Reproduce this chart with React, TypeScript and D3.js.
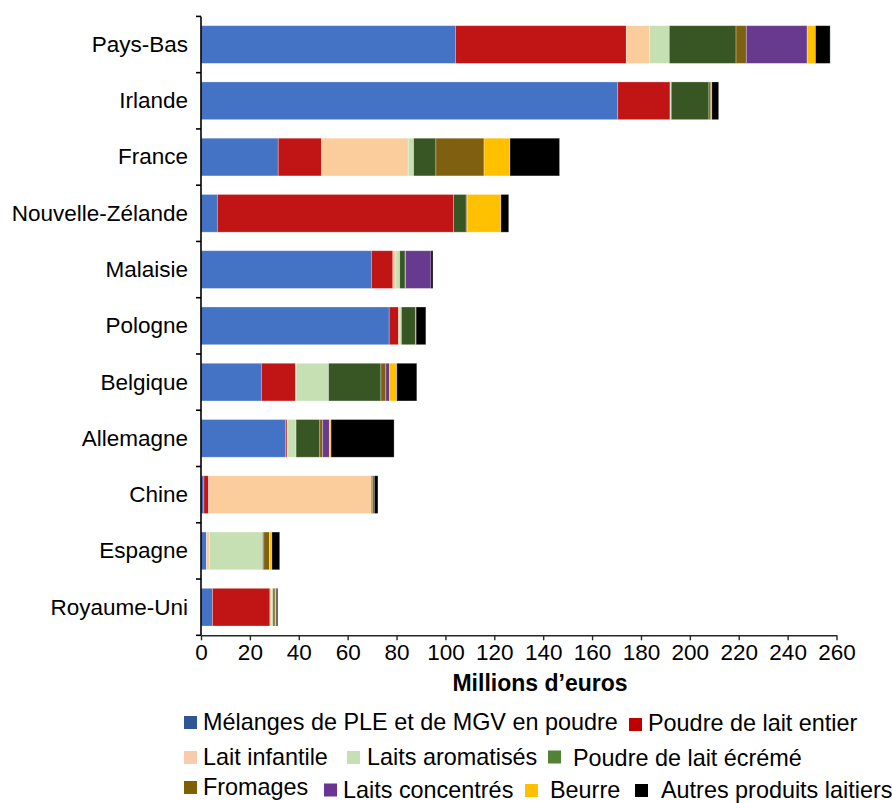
import { useEffect, useRef } from 'react';
import * as d3 from 'd3';

const WIDTH = 893;
const HEIGHT = 803;
const X0 = 201;
const X1 = 836.5;
const Y_TOP = 16.4;
const Y_BOTTOM = 635.3;
const FONT = '"Liberation Sans", Arial, sans-serif';

const countries = [
  'Pays-Bas',
  'Irlande',
  'France',
  'Nouvelle-Zélande',
  'Malaisie',
  'Pologne',
  'Belgique',
  'Allemagne',
  'Chine',
  'Espagne',
  'Royaume-Uni',
];

// millions d'euros
const melanges = [104.1, 170.5, 31.6, 6.7, 69.7, 77.0, 24.7, 34.6, 1.2, 2.2, 4.7];
const poudreEntier = [69.9, 21.4, 17.7, 96.6, 8.8, 3.8, 14.0, 0.6, 1.9, 0, 23.5];
const laitInfantile = [9.5, 0.2, 35.5, 0, 1.3, 0.6, 0.3, 0.3, 66.6, 1.2, 0.7];
const laitsAromatises = [8.1, 0.3, 2.2, 0, 1.5, 0.6, 13.2, 3.4, 0, 21.8, 0.5];
const poudreEcreme = [27.3, 15.4, 9.1, 5.2, 2.2, 5.7, 21.4, 9.7, 0.4, 0.5, 0.5];
const fromages = [4.2, 0.8, 19.7, 0.4, 0.2, 0.3, 2.0, 1.2, 0.8, 2.3, 0.6];
const laitsConcentres = [24.9, 0, 0, 0, 10.4, 0, 1.5, 2.7, 0, 0, 0];
const beurre = [3.4, 0.4, 10.6, 13.8, 0, 0, 3.0, 0.7, 0, 1.0, 0.3];
const autres = [6.0, 2.8, 20.3, 3.2, 0.8, 4.0, 8.2, 25.8, 1.5, 3.2, 0.6];

const xTicks = [0, 20, 40, 60, 80, 100, 120, 140, 160, 180, 200, 220, 240, 260];

const series = [
  { key: 'melanges', label: 'Mélanges de PLE et de MGV en poudre', values: melanges, fill: '#4472C4', legend: '#2F5597' },
  { key: 'entier', label: 'Poudre de lait entier', values: poudreEntier, fill: '#C11414', legend: '#C00000' },
  { key: 'infantile', label: 'Lait infantile', values: laitInfantile, fill: '#FBCD9D', legend: '#F8CBAD' },
  { key: 'aromatises', label: 'Laits aromatisés', values: laitsAromatises, fill: '#C6E0B4', legend: '#C5E0B4' },
  { key: 'ecreme', label: 'Poudre de lait écrémé', values: poudreEcreme, fill: '#375623', legend: '#548235' },
  { key: 'fromages', label: 'Fromages', values: fromages, fill: '#7F6010', legend: '#7F6000' },
  { key: 'concentres', label: 'Laits concentrés', values: laitsConcentres, fill: '#673A8E', legend: '#6A3592' },
  { key: 'beurre', label: 'Beurre', values: beurre, fill: '#FFC000', legend: '#FFC000' },
  { key: 'autres', label: 'Autres produits laitiers', values: autres, fill: '#000000', legend: '#000000' },
];

// legend placement (square x, square y, text x, text baseline)
const legendLayout = [
  { sx: 184, sy: 716, tx: 203, ty: 729.5 },
  { sx: 629, sy: 718, tx: 648, ty: 731 },
  { sx: 184, sy: 751, tx: 203, ty: 764.5 },
  { sx: 347, sy: 751, tx: 367, ty: 764.5 },
  { sx: 548, sy: 750.5, tx: 573, ty: 766 },
  { sx: 184, sy: 781, tx: 203, ty: 795 },
  { sx: 324, sy: 783.5, tx: 343, ty: 797.5 },
  { sx: 525, sy: 784, tx: 550, ty: 797.5 },
  { sx: 635, sy: 784, tx: 661, ty: 797.5 },
];

export default function App() {
  const svgRef = useRef<SVGSVGElement>(null);

  useEffect(() => {
    if (!svgRef.current) return;
    const svg = d3.select(svgRef.current);
    svg.selectAll('*').remove();

    const x = d3.scaleLinear().domain([0, 260]).range([X0, X1]);
    const y = d3.scaleBand().domain(countries).range([Y_TOP, Y_BOTTOM]).paddingInner(0.33).paddingOuter(0.165);

    const rows = countries.map((c, i) => {
      const row: Record<string, number | string> = { country: c };
      series.forEach((s) => (row[s.key] = s.values[i]));
      return row;
    });
    const stacked = d3.stack<Record<string, number | string>>().keys(series.map((s) => s.key))(rows as any);

    const g = svg.append('g');
    stacked.forEach((layer, li) => {
      g.append('g')
        .attr('fill', series[li].fill)
        .selectAll('rect')
        .data(layer.filter((d) => d[1] - d[0] > 0))
        .enter()
        .append('rect')
        .attr('x', (d) => x(d[0]))
        .attr('y', (d) => y(d.data.country as string) ?? 0)
        .attr('width', (d) => x(d[1]) - x(d[0]))
        .attr('height', y.bandwidth())
        .attr('stroke', '#ffffff')
        .attr('stroke-opacity', 0.35)
        .attr('stroke-width', 0.8);
    });

    // y axis with boundary ticks
    const yAxis = svg.append('g');
    yAxis
      .append('line')
      .attr('x1', X0)
      .attr('x2', X0)
      .attr('y1', Y_TOP)
      .attr('y2', Y_BOTTOM)
      .attr('stroke', '#000')
      .attr('stroke-width', 1.6);
    const step = y.step();
    const bounds = d3.range(countries.length + 1).map((i) => Y_TOP + i * step);
    yAxis
      .selectAll('line.tick')
      .data(bounds)
      .enter()
      .append('line')
      .attr('class', 'tick')
      .attr('x1', X0 - 5)
      .attr('x2', X0)
      .attr('y1', (d) => d)
      .attr('y2', (d) => d)
      .attr('stroke', '#000')
      .attr('stroke-width', 1.6);
    yAxis
      .selectAll('text')
      .data(countries)
      .enter()
      .append('text')
      .attr('x', 188)
      .attr('y', (d) => (y(d) ?? 0) + y.bandwidth() / 2)
      .attr('dy', '0.33em')
      .attr('text-anchor', 'end')
      .attr('font-family', FONT)
      .attr('font-size', 22.5)
      .attr('fill', '#000')
      .text((d) => d);

    // x axis
    const xAxis = d3.axisBottom(x).tickValues(xTicks).tickSize(5).tickPadding(4).tickSizeOuter(0);
    const xg = svg.append('g').attr('transform', `translate(0,${Y_BOTTOM})`).call(xAxis);
    xg.select('.domain').attr('stroke', '#262626').attr('stroke-width', 1.4);
    xg.selectAll('.tick line').attr('stroke', '#262626').attr('stroke-width', 1.4);
    xg.selectAll('.tick text')
      .attr('font-family', FONT)
      .attr('font-size', 22.5)
      .attr('fill', '#000');

    svg
      .append('text')
      .attr('x', 540)
      .attr('y', 691)
      .attr('text-anchor', 'middle')
      .attr('font-family', FONT)
      .attr('font-size', 23)
      .attr('font-weight', 'bold')
      .text('Millions d\u2019euros');

    // legend
    const lg = svg.append('g');
    series.forEach((s, i) => {
      const p = legendLayout[i];
      lg.append('rect').attr('x', p.sx).attr('y', p.sy).attr('width', 13).attr('height', 13).attr('fill', s.legend);
      lg.append('text')
        .attr('x', p.tx)
        .attr('y', p.ty)
        .attr('font-family', FONT)
        .attr('font-size', 23.4)
        .attr('fill', '#000')
        .text(s.label);
    });
  }, []);

  return (
    <div style={{ position: 'absolute', left: 0, top: 0, background: '#fff' }}>
      <svg ref={svgRef} width={WIDTH} height={HEIGHT} style={{ display: 'block' }} />
    </div>
  );
}
